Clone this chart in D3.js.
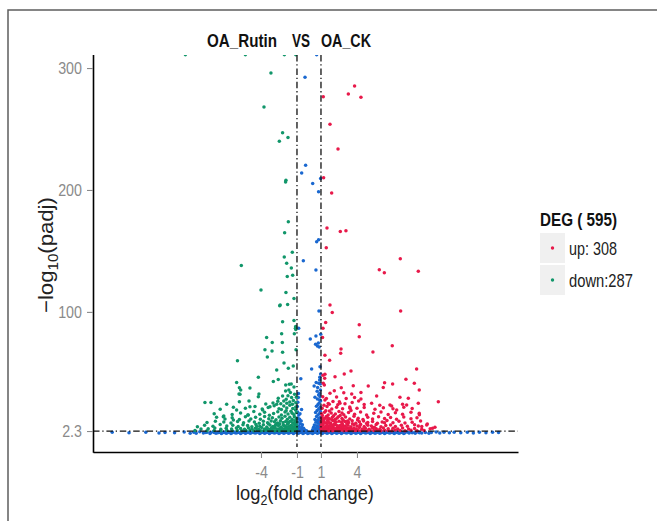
<!DOCTYPE html>
<html><head><meta charset="utf-8">
<script src="https://cdn.jsdelivr.net/npm/d3@7"></script>
<style>body{margin:0;background:#fff;overflow:hidden}</style>
</head><body><svg id="c" width="657" height="521"></svg>
<script>
// ---- data: [log2 fold change, -log10(padj)] ----
const upGenes = [
[1.19,276.5],[3.28,278.7],[3.8,285.3],[4.33,276],[1.75,254],[2.42,233.6],[1.22,210],[1.89,197.5],[1.5,168.8],[2.61,166],[3.08,166.6],[1.44,152.6],
[7.61,143.6],[5.86,134.6],[6.28,132.1],[9.11,133.3],[1.75,105.6],[1.94,99.6],[7.64,100.7],[1.39,91.4],[1.17,86.5],[1.13,79],[4.19,89.5],[4.19,79.6],
[2.67,69.5],[2.64,66],[5.33,67.1],[6.94,72.3],[1.33,64.4],[1.72,60.3],[8.97,53.2],[3.5,51.5],[2.94,49],[2.17,46.8],[1.33,48.8],[1.17,48],[1.31,45.5],
[1.19,41.4],[6.97,40.8],[6.3,41.9],[6.19,38.1],[8.08,44.7],[8.78,41.4],[9.19,35.9],[4.94,39.2],[3.69,39.5],[4.33,34],[3.56,32.6],[2.69,37.8],[2.11,35.3],
[1.75,33.2],[1.28,40],[10.78,26.3],[5.64,31],[7.58,30],[8.28,29.1],[9.11,25],[1.33,27.7],[2.53,26.3],[4.14,26.9],[5.22,25],[6.89,22.8],[7.31,19.5],
[9.19,16.8],[9.86,8],[10.5,5.3],[9.11,6.4],[8.14,23.6],[6.75,23.6],[4.33,28.5],[2.58,25],[1.69,24.2],[3.42,20.9],[9.81,7.2],[10.3,4.5],
[1.1,21],[1.5,22.5],[1.9,20.4],[2.3,21.8],[2.8,20.6],[3.4,22],[4.0,20.9],[4.6,21.5],[5.5,20.2],[6.2,21.3],[7.0,20.5],[7.9,21.9],[8.6,20.8],
[1.05,16.5],[1.3,17.8],[1.6,15.4],[1.85,17.1],[2.2,16.2],[2.5,18.3],[2.9,15.7],[3.3,17.4],[3.8,16],[4.3,17.9],[4.8,15.5],[5.4,16.8],[6.0,18],[6.6,15.9],[7.2,17.2],[7.8,16.1],[8.5,17.6],[9.2,15.6],
[1.05,13],[1.25,11.8],[1.45,14.2],[1.7,12.4],[1.95,13.6],[2.2,11.9],[2.45,14],[2.75,12.6],[3.05,13.8],[3.4,12.1],[3.75,14.4],[4.1,12.8],[4.5,11.7],[4.9,13.5],[5.3,12.2],[5.8,14.1],[6.3,12.5],[6.8,13.3],[7.3,11.9],[7.9,13.9],[8.5,12.3],[9.0,13.1],
[1.02,9.8],[1.2,10.7],[1.4,9.1],[1.6,10.3],[1.8,8.8],[2.0,10.9],[2.25,9.5],[2.5,10.4],[2.75,8.9],[3.0,10.1],[3.3,9.3],[3.6,10.8],[3.9,8.7],[4.2,9.9],[4.55,10.6],[4.9,9.2],[5.3,10.2],[5.7,8.6],[6.1,9.7],[6.5,10.9],[7.0,9.0],[7.5,10.3],[8.0,8.8],[8.6,9.6],[9.3,10.5],
[1.02,6.8],[1.18,7.6],[1.34,5.9],[1.5,7.2],[1.66,6.3],[1.82,7.9],[2.0,6.1],[2.2,7.4],[2.4,5.7],[2.6,6.9],[2.8,7.7],[3.0,6.2],[3.25,7.1],[3.5,5.8],[3.75,7.5],[4.0,6.5],[4.3,7.8],[4.6,6.0],[4.9,7.0],[5.2,6.4],[5.6,7.6],[6.0,5.9],[6.4,6.8],[6.8,7.3],[7.2,6.1],[7.7,7.0],[8.2,6.3],[8.8,7.4],[9.4,6.0],
[1.02,4.4],[1.15,3.8],[1.28,5.0],[1.42,4.1],[1.56,4.8],[1.7,3.7],[1.85,4.6],[2.0,5.1],[2.15,3.9],[2.3,4.5],[2.45,3.6],[2.6,4.9],[2.78,4.2],[2.96,3.8],[3.15,5.0],[3.35,4.3],[3.55,3.7],[3.75,4.7],[3.95,4.0],[4.2,5.2],[4.45,3.9],[4.7,4.6],[5.0,3.8],[5.3,4.9],[5.6,4.2],[5.9,3.7],[6.2,4.8],[6.6,4.1],[7.0,4.5],[7.4,3.9],[7.8,4.7],[8.3,4.0],[8.8,4.4],[9.4,3.8],[10.1,4.2],
[1.05,2.7],[1.2,3.1],[1.35,2.5],[1.5,2.9],[1.65,2.6],[1.8,3.2],[1.95,2.5],[2.1,2.8],[2.3,3.0],[2.5,2.6],[2.7,3.1],[2.9,2.5],[3.1,2.9],[3.3,2.7],[3.5,3.2],[3.7,2.5],[3.9,2.8],[4.1,3.0],[4.35,2.6],[4.6,2.9],[4.85,2.5],[5.1,3.1],[5.4,2.7],[5.7,2.9],[6.0,2.5],[6.3,3.0],[6.6,2.7],[6.9,2.6],[7.2,3.1],[7.6,2.8],[8.0,2.5],[8.5,2.9],[9.0,2.6],[9.6,2.8],
[1.1,8.2],[1.3,12.7],[1.55,11.1],[1.75,5.4],[1.9,11.6],[2.1,8.0],[2.35,12.9],[2.65,5.3],[2.85,11.3],[3.15,8.3],[1.12,15.0],[1.4,19.0],[1.7,18.8],[2.05,14.8],[2.6,15.0],[3.5,19.2],
[1.25,23.5],[1.6,24.8],[2.0,26.5],[2.4,23.9],[3.0,24.6],[3.6,25.8],[4.6,24],[5.9,23.4],[7.8,24.2],[1.15,30.5],[1.45,29],[2.3,30.2],[3.1,28.9],[2.9,33.6],[3.8,29.8],
[1.08,5.6],[1.22,9.3],[1.38,3.4],[1.48,6.5],[1.62,8.9],[1.78,3.3],[1.92,7.1],[2.08,4.2],[2.18,10.2],[2.38,6.6],[2.55,3.3],[2.72,9.8],[2.88,6.0],[3.05,3.5],[3.22,10.5],[3.4,4.8],[3.62,8.3],[3.85,3.4],[4.05,11.3],[4.25,6.9],[4.8,8.4],[5.45,5.5],[6.3,9.0],[1.15,11.9],[1.55,13.2],[2.75,17.0]
];
const downGenes = [
[-10.3,311],[-5.3,311],[-2.05,311],[-1.1,311],[-3.17,296],[-3.75,268],[-2.2,247],[-1.75,243],[-2.47,240],[-1.92,208],[-1.95,206.5],
[-1.72,174],[-2.03,165],[-1.39,149],[-2.06,145],[-1.86,140],[-1.47,136],[-5.64,138],[-1.36,130],[-1.81,129],[-4.0,118],[-1.92,116],[-1.25,111],
[-2.44,105],[-2.40,105.6],[-1.78,106],[-1.25,93],[-2.2,92],[-1.11,88],[-1.13,86.5],[-1.1,85.5],[-2.28,82],[-1.22,82],[-3.53,79],[-2.22,75],[-3.06,75],
[-3.67,69],[-3.08,68],[-2.2,67],[-1.08,69],[-3.47,63],[-2.08,58],[-5.96,60],[-1.31,55.6],[-1.72,53.7],[-2.69,52.3],
[-4.22,46.5],[-6.03,42],[-4.92,37.5],[-5.8,37.8],[-2.97,43],[-2.56,44.5],[-1.94,40],[-1.64,40.6],[-5.69,36],
[-1.1,22],[-1.35,20.8],[-1.6,23.4],[-1.85,21.2],[-2.1,22.8],[-2.5,20.5],[-2.9,23.1],[-3.4,21.6],[-3.9,20.3],[-4.5,22.4],[-5.3,20.9],[-6.3,21.7],[-7.4,20.2],
[-1.05,17.5],[-1.25,15.6],[-1.5,18.6],[-1.75,16.3],[-2.0,17.9],[-2.3,15.4],[-2.6,18.2],[-2.95,16.6],[-3.3,15.2],[-3.7,17.7],[-4.1,16.1],[-4.6,18.4],[-5.1,15.4],[-5.7,17.0],[-6.4,15.8],[-7.1,14.6],[-7.9,16.4],
[-1.05,12.6],[-1.22,14.1],[-1.4,11.8],[-1.6,13.5],[-1.8,12.0],[-2.0,14.4],[-2.25,12.7],[-2.5,13.8],[-2.75,11.6],[-3.05,13.2],[-3.35,12.3],[-3.7,14.3],[-4.05,11.9],[-4.45,13.6],[-4.85,12.2],[-5.3,14.0],[-5.8,11.8],[-6.4,13.1],[-7.0,12.2],[-7.7,13.6],
[-1.02,9.6],[-1.18,10.8],[-1.36,9.0],[-1.55,10.4],[-1.74,8.7],[-1.94,10.1],[-2.15,9.3],[-2.38,10.7],[-2.62,8.8],[-2.88,9.9],[-3.15,10.6],[-3.45,9.1],[-3.8,10.3],[-4.15,8.6],[-4.55,9.8],[-5.0,10.5],[-5.45,9.0],[-5.95,10.2],[-6.5,8.9],[-7.1,9.7],[-7.8,10.4],[-8.5,9.2],
[-1.02,6.6],[-1.16,7.7],[-1.3,5.8],[-1.46,7.1],[-1.62,6.2],[-1.78,7.8],[-1.95,6.0],[-2.14,7.3],[-2.34,5.6],[-2.55,6.9],[-2.77,7.6],[-3.0,6.1],[-3.25,7.2],[-3.52,5.7],[-3.8,7.4],[-4.1,6.3],[-4.42,7.7],[-4.76,5.9],[-5.12,6.9],[-5.5,7.5],[-5.9,6.0],[-6.35,7.1],[-6.85,6.4],[-7.4,7.6],[-8.0,6.2],[-8.7,7.0],[-9.3,5.9],
[-1.02,4.3],[-1.14,3.7],[-1.27,4.9],[-1.4,4.0],[-1.54,4.7],[-1.68,3.8],[-1.83,5.1],[-1.98,4.2],[-2.14,3.6],[-2.3,4.8],[-2.47,4.1],[-2.65,3.9],[-2.84,5.0],[-3.04,4.3],[-3.25,3.7],[-3.47,4.6],[-3.7,4.0],[-3.95,5.2],[-4.2,3.8],[-4.47,4.5],[-4.75,4.0],[-5.05,4.9],[-5.37,3.7],[-5.7,4.4],[-6.05,4.8],[-6.45,3.9],[-6.9,4.5],[-7.35,3.8],[-7.85,4.7],[-8.4,4.1],[-9.0,3.9],
[-1.05,2.8],[-1.2,2.5],[-1.35,3.0],[-1.5,2.6],[-1.65,3.2],[-1.8,2.7],[-1.96,2.5],[-2.12,3.0],[-2.3,2.7],[-2.48,2.5],[-2.67,3.1],[-2.87,2.6],[-3.08,2.9],[-3.3,2.5],[-3.53,3.1],[-3.77,2.7],[-4.02,2.5],[-4.3,2.9],[-4.6,2.6],[-4.92,3.1],[-5.25,2.7],[-5.6,2.5],[-5.98,2.9],[-6.4,2.6],[-6.85,3.0],[-7.35,2.6],[-7.9,2.8],[-8.5,2.5],[-9.5,2.7],
[-1.1,25.5],[-1.3,27.3],[-1.45,29.8],[-1.6,26.1],[-1.75,31.2],[-1.9,28.4],[-1.2,32.4],[-1.55,33.8],[-1.38,24.2],[-1.85,25.0],[-2.1,27.0],[-2.35,24.6],[-1.05,30.0],[-1.68,36.0],[-1.25,38.5],[-1.48,40.8],[-1.95,35.2],
[-2.6,26.8],[-2.2,31.0],[-3.0,25.3],[-3.6,24.5],[-4.22,30.4],[-5.75,32.4],[-5.0,26.9],[-4.92,22.2],[-3.25,22.2],[-3.86,19.5],[-2.69,24.2],[-5.8,26.3],[-6.86,24.2],[-8.67,25.8],[-8.17,25.8],
[-7.14,14.0],[-6.3,11.3],[-5.06,15.4],[-2.56,29.1],[-6.03,19.5],[-4.17,32.6],[-5.83,32.6],
[-1.08,5.2],[-1.24,8.4],[-1.42,3.3],[-1.58,5.4],[-1.72,9.6],[-1.88,3.4],[-2.05,6.7],[-2.22,4.4],[-2.44,8.3],[-2.6,3.3],[-2.82,6.4],[-3.12,4.9],[-3.38,8.2],[-3.62,3.4],[-4.35,6.0],[-1.12,19.5],[-1.4,16.9],[-1.9,19.0],[-2.3,20.0]
];
const nsGenes = [
[0.64,311],[-0.33,292.4],[-0.28,220.2],[-0.61,213.9],[0.31,205.4],[0.97,209.5],[0.8,198.6],[0.64,157.6],[0.8,159.2],[-0.47,142],[0.58,134.3],[0.83,100.7],
[-0.86,86.5],[0.11,77.7],[0.58,80.2],[0.98,81.6],[0.55,73.5],[0.7,72],[0.85,71.2],[0.78,74.5],[0.22,53.2],[0.92,55],[0.43,39.2],[0.89,44.1],[-0.68,45.2],[-0.89,29.9],[0.89,27.7],
[0.95,36],[0.88,33],[0.92,30.5],[0.8,31.8],[0.7,28.5],[0.97,27],[0.85,25.2],[0.75,24],[0.62,22.6],[0.93,22],[0.82,20.5],[0.68,19.2],[0.96,18.4],[0.55,17.5],[0.88,16.6],[0.75,15.4],[0.63,14.2],[0.97,13.5],[0.82,12.6],[0.5,11.8],[0.7,11],[0.9,10.2],[0.58,9.4],[0.78,8.6],[0.95,7.8],[0.45,7.2],[0.65,6.6],[0.85,6],[0.38,5.4],[0.55,4.8],[0.72,4.3],[0.92,3.8],[0.3,3.4],[0.48,3],[0.66,2.7],[0.84,2.5],[0.98,2.9],[0.6,42],[0.72,38],[0.97,49],[0.9,46.5],[0.68,35],[0.5,30],[0.95,40.8],[0.82,41.5],
[-0.95,18],[-0.85,15.5],[-0.92,13],[-0.78,12],[-0.65,10.5],[-0.9,9.8],[-0.72,8.2],[-0.55,7.5],[-0.98,7],[-0.82,6.1],[-0.6,5.4],[-0.45,4.6],[-0.95,4.2],[-0.7,3.7],[-0.35,3.2],[-0.85,3],[-0.55,2.7],[-0.2,2.5],[-0.97,22.5],[-0.93,26],[-0.75,16.5],[-0.62,20],[-0.88,33],
[-16.4,1.2],[-15.0,0.9],[-13.6,1.4],[-12.5,0.6],[-12.0,1.1],[-11.2,0.8],[-10.4,1.5],[-9.9,0.5],[-9.6,1.2],
[10.2,1.0],[10.6,1.6],[10.9,0.6],[11.25,1.2],[11.7,0.8],[12.1,1.4],[12.65,0.9],[13.2,1.3],[13.7,0.7],[14.2,1.2],[14.75,0.9],[15.3,1.4],[15.8,1.0],
[-9.4,0.4],[-9.1,1.7],[-8.8,0.6],[-8.5,1.4],[-8.25,0.3],[-8.0,1.8],[-7.75,0.5],[-7.5,1.3],[-7.3,0.2],[-7.1,1.6],[-6.9,0.5],[-6.7,1.2],[-6.5,0.3],[-6.3,1.7],[-6.1,0.6],[-5.9,1.4],[-5.7,0.2],[-5.5,1.8],[-5.3,0.5],[-5.1,1.3],[-4.9,0.4],[-4.7,1.6],[-4.5,0.6],[-4.3,1.9],[-4.1,0.3],[-3.9,1.5],[-3.7,0.5],[-3.5,1.8],[-3.3,0.2],[-3.1,1.4],[-2.9,0.6],[-2.7,1.7],[-2.5,0.3],[-2.3,1.5],[-2.1,0.5],[-1.9,1.9],[-1.7,0.4],[-1.5,1.6],[-1.3,0.2],[-1.1,1.8],[-0.9,0.5],[-0.7,1.4],[-0.5,0.3],[-0.3,1.2],[-0.1,0.2],[0.1,0.9],[0.3,0.3],[0.5,1.5],[0.7,0.4],[0.9,1.8],[1.1,0.3],[1.3,1.7],[1.5,0.5],[1.7,1.9],[1.9,0.2],[2.1,1.6],[2.3,0.4],[2.5,1.8],[2.7,0.3],[2.9,1.5],[3.1,0.6],[3.3,1.9],[3.5,0.2],[3.7,1.4],[3.9,0.5],[4.1,1.7],[4.3,0.3],[4.5,1.6],[4.7,0.6],[4.9,1.8],[5.1,0.2],[5.3,1.3],[5.5,0.5],[5.7,1.7],[5.9,0.4],[6.1,1.5],[6.3,0.3],[6.5,1.8],[6.7,0.6],[6.9,1.2],[7.1,0.2],[7.3,1.6],[7.5,0.5],[7.7,1.4],[7.9,0.3],[8.1,1.7],[8.35,0.6],[8.6,1.3],[8.85,0.4],[9.1,1.5],[9.4,0.7],[9.7,1.1],[10.0,0.4],
[-8.6,1.0],[-8.2,0.9],[-7.9,1.1],[-7.6,0.9],[-7.4,1.0],[-7.2,0.8],[-7.0,1.1],[-6.8,0.9],[-6.6,1.0],[-6.4,0.8],[-6.2,1.1],[-6.0,0.9],[-5.8,1.0],[-5.6,0.8],[-5.4,1.1],[-5.2,0.9],[-5.0,1.0],[-4.8,0.8],[-4.6,1.1],[-4.4,0.9],[-4.2,1.0],[-4.0,0.8],[-3.8,1.1],[-3.6,0.9],[-3.4,1.0],[-3.2,0.8],[-3.0,1.1],[-2.8,0.9],[-2.6,1.0],[-2.4,0.8],[-2.2,1.1],[-2.0,0.9],[-1.8,1.0],[-1.6,0.8],[-1.4,1.1],[-1.2,0.9],[-1.0,1.0],[-0.8,0.8],[-0.6,1.1],[-0.4,0.9],[-0.2,1.0],[0.0,0.8],[0.2,1.1],[0.4,0.9],[0.6,1.0],[0.8,0.8],[1.0,1.1],[1.2,0.9],[1.4,1.0],[1.6,0.8],[1.8,1.1],[2.0,0.9],[2.2,1.0],[2.4,0.8],[2.6,1.1],[2.8,0.9],[3.0,1.0],[3.2,0.8],[3.4,1.1],[3.6,0.9],[3.8,1.0],[4.0,0.8],[4.2,1.1],[4.4,0.9],[4.6,1.0],[4.8,0.8],[5.0,1.1],[5.2,0.9],[5.4,1.0],[5.6,0.8],[5.8,1.1],[6.0,0.9],[6.2,1.0],[6.4,0.8],[6.6,1.1],[6.8,0.9],[7.0,1.0],[7.2,0.8],[7.4,1.1],[7.6,0.9],[7.8,1.0],[8.0,0.8],[8.3,1.1],[8.6,0.9],[8.9,1.0],[9.2,0.8]
];
const xTicks = [-4, -1, 1, 4];
const yTicks = [2.3, 100, 200, 300];
const fcCut = [-1, 1];
const padjCut = 2.3;
const titleParts = ["OA_Rutin", "VS", "OA_CK"];
const legendTitle = "DEG ( 595)";
const legendLabels = ["up: 308", "down:287"];

// ---- drawing ----
const colUp = "#e8194a", colDown = "#11966a", colNs = "#1a68d0";
const font = "'Liberation Sans',Arial,sans-serif";
const svg = d3.select("#c");
const P = {l: 93, r: 518, t: 55, b: 452};
const x = d3.scaleLinear().domain([-18, 17.42]).range([P.l, P.r]);
const y = d3.scaleLinear().domain([-14.9, 310.7]).range([P.b, P.t]);

function squeeze(sel, k){
  sel.each(function(){
    const t = d3.select(this);
    const tx = +t.attr("x") || 0, ty = +t.attr("y") || 0;
    t.attr("x",0).attr("y",0).attr("transform",`translate(${tx},${ty}) scale(${k},1)`);
  });
}
function fit(sel, w){
  sel.each(function(){ squeeze(d3.select(this), w / this.getComputedTextLength()); });
}

svg.append("rect").attr("width",657).attr("height",521).attr("fill","#fff");
svg.append("rect").attr("x",8).attr("y",10).attr("width",700).attr("height",600)
  .attr("fill","none").attr("stroke","#5e5e5e").attr("stroke-width",1.5);

svg.append("defs").append("clipPath").attr("id","clip").append("rect")
  .attr("x",P.l).attr("y",P.t).attr("width",P.r-P.l).attr("height",P.b-P.t);
const g = svg.append("g").attr("clip-path","url(#clip)");
function pts(data, col){
  g.append("g").selectAll("circle").data(data).join("circle")
    .attr("cx",d=>x(d[0])).attr("cy",d=>y(d[1])).attr("r",1.75).attr("fill",col);
}
pts(nsGenes, colNs); pts(downGenes, colDown); pts(upGenes, colUp);

const dash = "6.5,2.8,1.3,2.8";
g.selectAll(".vl").data(fcCut).join("line").attr("x1",d=>x(d)).attr("x2",d=>x(d))
  .attr("y1",P.t).attr("y2",P.b-5).attr("stroke","#111").attr("stroke-width",1.3).attr("stroke-dasharray",dash);
g.append("line").attr("x1",P.l).attr("x2",P.r).attr("y1",y(padjCut)).attr("y2",y(padjCut))
  .attr("stroke","#111").attr("stroke-width",1.3).attr("stroke-dasharray",dash);

// axes
const ya = svg.append("g").attr("transform",`translate(${P.l},0)`)
  .call(d3.axisLeft(y).tickValues(yTicks).tickSize(6).tickSizeOuter(0).tickPadding(5).tickFormat(d=>String(d)));
const xa = svg.append("g").attr("transform",`translate(0,${P.b})`)
  .call(d3.axisBottom(x).tickValues(xTicks).tickSize(6).tickSizeOuter(0).tickPadding(8).tickFormat(d=>String(d)));
[ya, xa].forEach(a=>{
  a.select(".domain").attr("stroke","#000").attr("stroke-width",1.6);
  a.selectAll(".tick line").attr("stroke","#8a8a8a").attr("stroke-width",1.1);
  a.selectAll(".tick text").attr("fill","#8a8a8a").attr("font-size",17).attr("font-family",font);
  squeeze(a.selectAll(".tick text"), 0.84);
});
ya.select(".domain").attr("d",`M0.5,${P.t}V${P.b+0.8}`);

// title
const tx = [207, 292, 321], tw = [70, 18, 50];
svg.append("g").selectAll("text").data(titleParts).join("text")
  .attr("x",(d,i)=>tx[i]).attr("y",47).text(d=>d)
  .attr("font-family",font).attr("font-weight","bold").attr("font-size",18).attr("fill","#111")
  .each(function(d,i){ fit(d3.select(this), tw[i]); });

// axis titles
const xt = svg.append("text").attr("x",236).attr("y",500)
  .attr("font-family",font).attr("font-size",20.5).attr("fill","#222");
xt.append("tspan").text("log");
xt.append("tspan").text("2").attr("font-size",14).attr("dy",5);
xt.append("tspan").text("(fold change)").attr("dy",-5);
fit(xt, 138);

const ytg = svg.append("g").attr("transform","translate(53,313) rotate(-90)");
const yt = ytg.append("text").attr("x",0).attr("y",0)
  .attr("font-family",font).attr("font-size",20.5).attr("fill","#222");
yt.append("tspan").text("\u2212log");
yt.append("tspan").text("10").attr("font-size",14).attr("dy",5);
yt.append("tspan").text("(padj)").attr("dy",-5);
fit(yt, 116);

// legend
const lt = svg.append("text").attr("x",540).attr("y",226).text(legendTitle)
  .attr("font-family",font).attr("font-weight","bold").attr("font-size",17.5).attr("fill","#111");
fit(lt, 77);
const lw = [48, 64];
const lg = svg.append("g").selectAll("g").data(legendLabels).join("g")
  .attr("transform",(d,i)=>`translate(540,${233+i*32})`);
lg.append("rect").attr("width",25).attr("height",30).attr("fill","#f0f0f0");
lg.append("circle").attr("cx",12.5).attr("cy",15).attr("r",1.7).attr("fill",(d,i)=>i===0?colUp:colDown);
lg.append("text").attr("x",29).attr("y",22).text(d=>d)
  .attr("font-family",font).attr("font-size",17.5).attr("fill","#222")
  .each(function(d,i){ fit(d3.select(this), lw[i]); });
</script></body></html>
